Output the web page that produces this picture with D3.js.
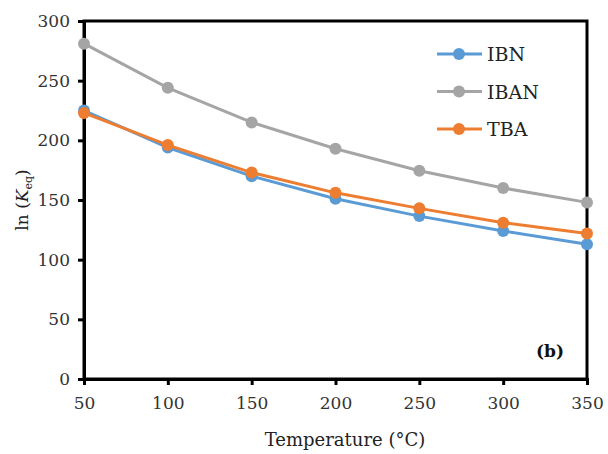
<!DOCTYPE html>
<html><head><meta charset="utf-8">
<script src="https://cdn.jsdelivr.net/npm/d3@7"></script>
<style>body{margin:0;background:#fff}svg{display:block}</style>
</head><body>
<svg id="c" width="608" height="454"></svg>
<script>
const temps = [50, 100, 150, 200, 250, 300, 350];
const ibn  = [225, 194, 170, 151, 136.5, 124, 113];
const iban = [281, 244, 215, 193, 174.5, 160, 148];
const tba  = [223, 196, 173, 156, 143, 131, 122];
const seriesNames = ["IBN", "IBAN", "TBA"];
const seriesColors = ["#5b9bd5", "#a5a5a5", "#ed7d31"];
const yTicks = [0, 50, 100, 150, 200, 250, 300];
const xTicks = [50, 100, 150, 200, 250, 300, 350];

const svg = d3.select("#c");
const x = d3.scaleLinear().domain([50, 350]).range([84, 587]);
const y = d3.scaleLinear().domain([0, 300]).range([379, 21]);
const font = "DejaVu Serif";

// frame
svg.append("rect").attr("x", 84).attr("y", 21).attr("width", 503).attr("height", 358)
  .attr("fill", "none").attr("stroke", "#000").attr("stroke-width", 3);

const xa = svg.append("g").attr("transform", "translate(0,379)")
  .call(d3.axisBottom(x).tickValues(xTicks).tickSize(6).tickPadding(12).tickFormat(d3.format("d")));
const ya = svg.append("g").attr("transform", "translate(84,0)")
  .call(d3.axisLeft(y).tickValues(yTicks).tickSize(6).tickPadding(8).tickFormat(d3.format("d")));
[xa, ya].forEach(a => {
  a.select(".domain").attr("stroke", "#000").attr("stroke-width", 3);
  a.selectAll(".tick line").attr("stroke", "#000").attr("stroke-width", 3);
  a.selectAll("text").attr("font-family", font).attr("font-size", 17).attr("fill", "#333");
});

const data = [ibn, iban, tba];
const line = d3.line().x((d, i) => x(temps[i])).y(d => y(d));
data.forEach((s, k) => {
  svg.append("path").datum(s).attr("d", line).attr("fill", "none")
    .attr("stroke", seriesColors[k]).attr("stroke-width", 3);
  svg.selectAll(null).data(s).enter().append("circle")
    .attr("cx", (d, i) => x(temps[i])).attr("cy", d => y(d)).attr("r", 6)
    .attr("fill", seriesColors[k]);
});

// legend
seriesNames.forEach((n, k) => {
  const ly = 54 + k * 37.5;
  svg.append("line").attr("x1", 437).attr("x2", 482).attr("y1", ly).attr("y2", ly)
    .attr("stroke", seriesColors[k]).attr("stroke-width", 3);
  svg.append("circle").attr("cx", 459).attr("cy", ly).attr("r", 6).attr("fill", seriesColors[k]);
  svg.append("text").attr("x", 487).attr("y", ly + 7).text(n)
    .attr("font-family", font).attr("font-size", 19).attr("fill", "#222");
});

// (b)
svg.append("text").attr("x", 550).attr("y", 357).attr("text-anchor", "middle")
  .attr("font-family", font).attr("font-weight", "bold").attr("font-size", 17).attr("fill", "#111").text("(b)");

// x title
svg.append("text").attr("x", 345).attr("y", 446).attr("text-anchor", "middle")
  .attr("font-family", font).attr("font-size", 18).attr("fill", "#222").text("Temperature (°C)");

// y title
const yt = svg.append("text").attr("transform", "translate(28,200) rotate(-90)")
  .attr("text-anchor", "middle").attr("font-family", font).attr("font-size", 17).attr("fill", "#222");
yt.append("tspan").text("ln (");
yt.append("tspan").attr("font-style", "italic").text("K");
yt.append("tspan").attr("font-size", 11).attr("dy", 4).text("eq");
yt.append("tspan").attr("dy", -4).text(")");
</script>
</body></html>
